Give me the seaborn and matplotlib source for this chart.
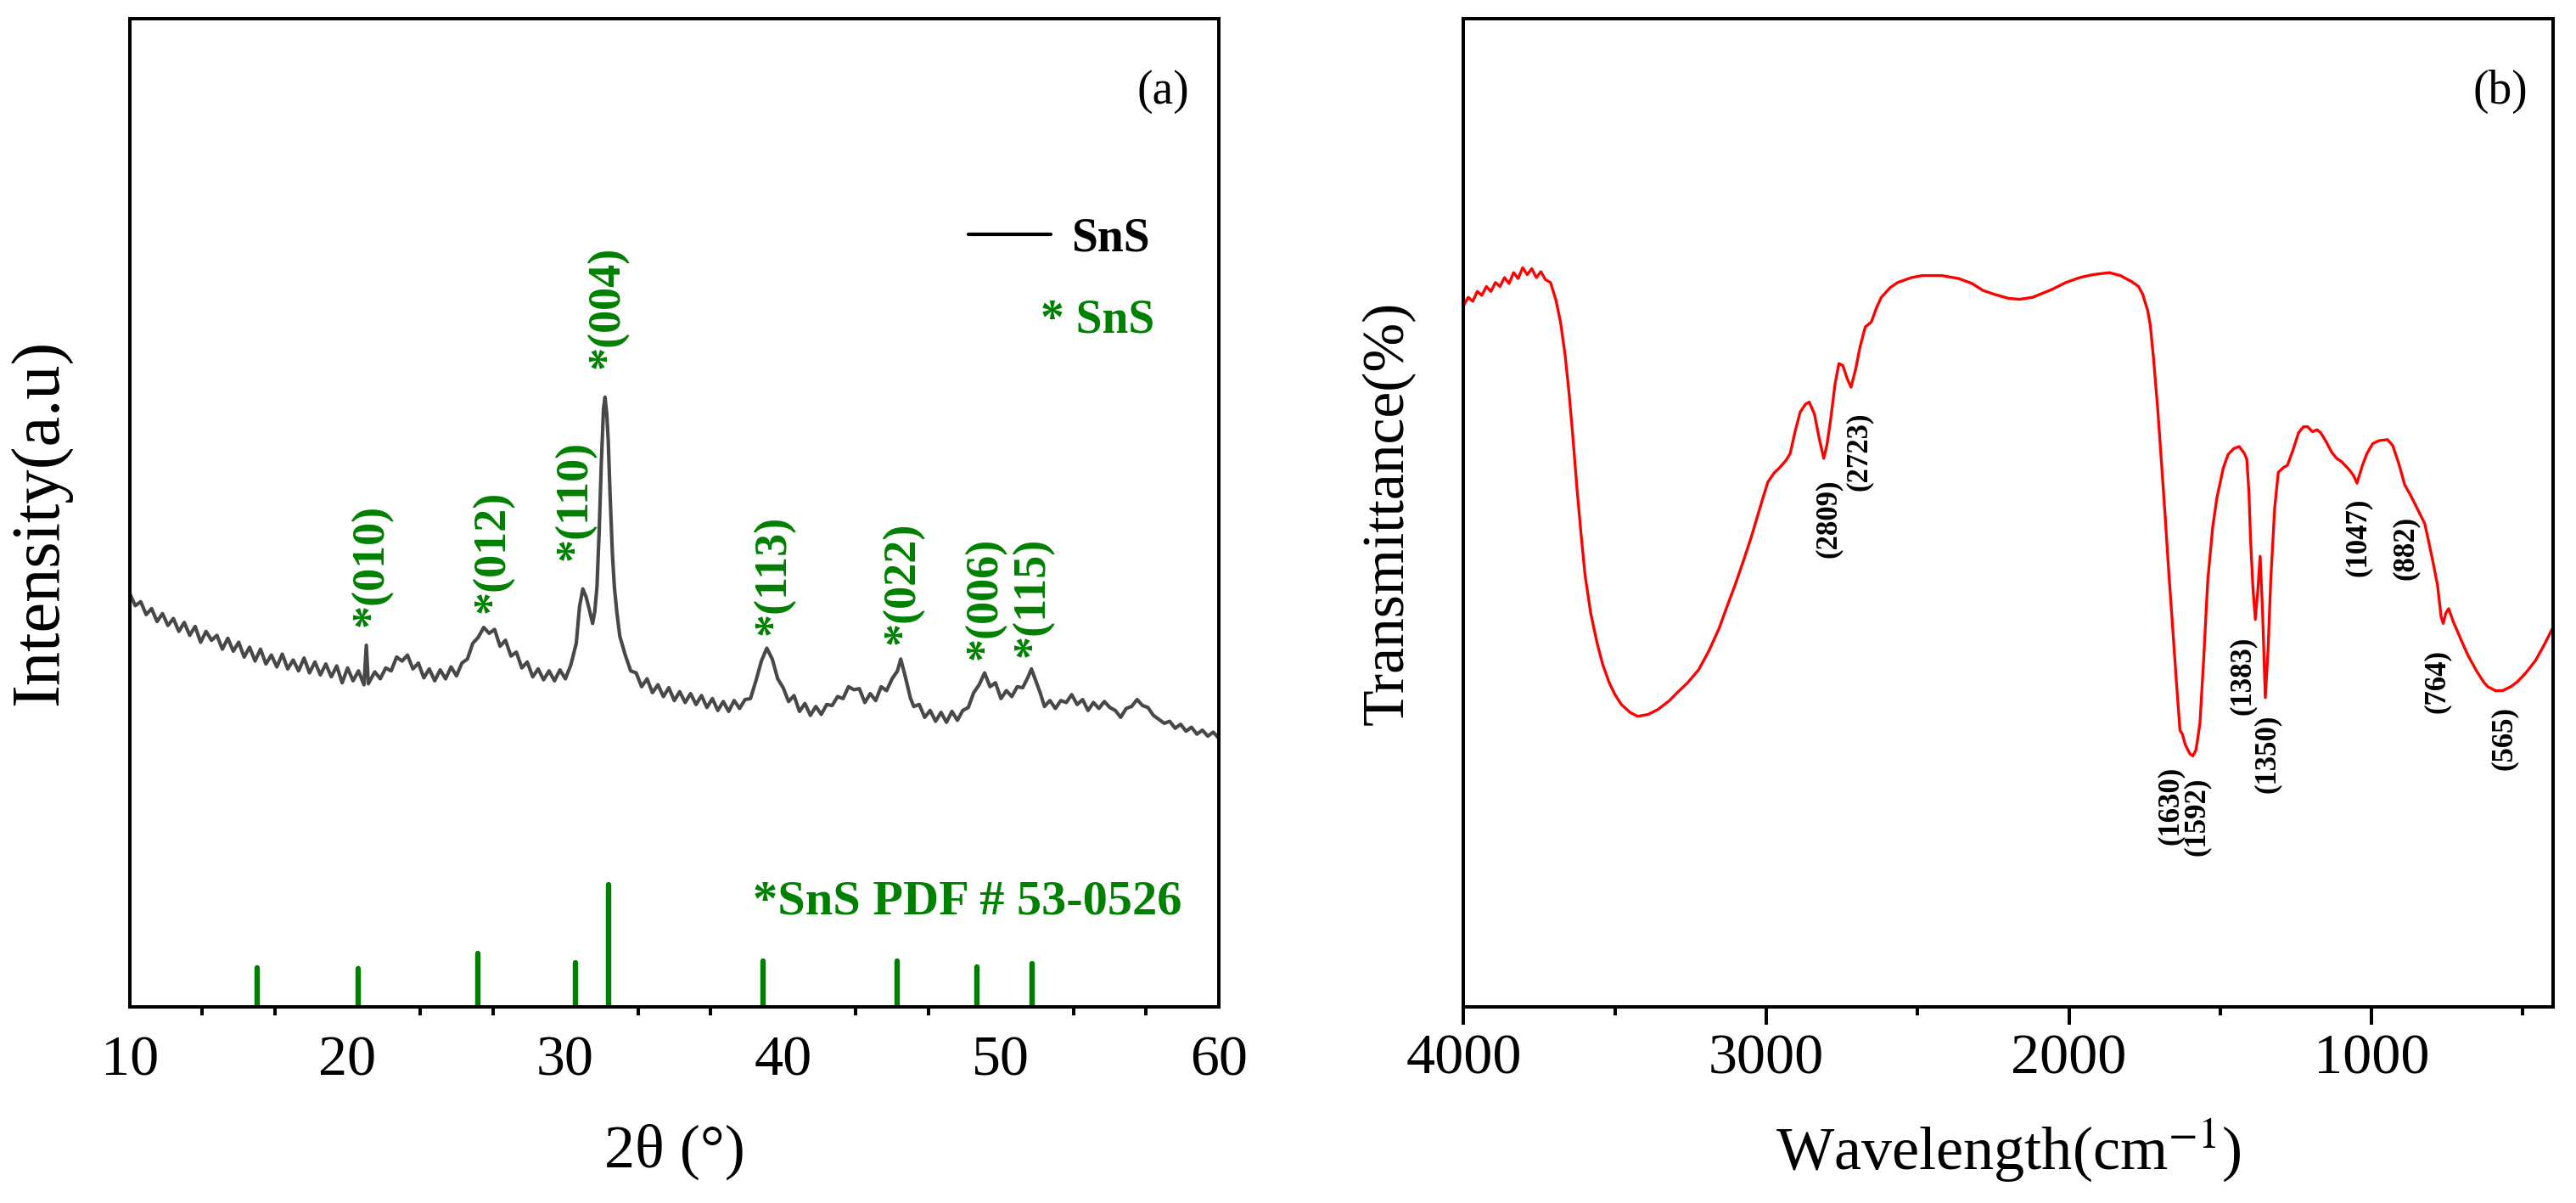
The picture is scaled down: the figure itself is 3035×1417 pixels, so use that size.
import numpy as np
import pandas as pd
import matplotlib
matplotlib.use("Agg")
import matplotlib.pyplot as plt
import seaborn as sns
from matplotlib.lines import Line2D
from matplotlib.ticker import FixedLocator, MultipleLocator

# ---------------- data ----------------
XRD_2THETA = [
    10.00, 10.25, 10.50, 10.75, 11.00, 11.25, 11.50, 11.75, 12.00, 12.25, 12.50, 12.75,
    13.00, 13.25, 13.50, 13.75, 14.00, 14.25, 14.50, 14.75, 15.00, 15.25, 15.50, 15.75,
    16.00, 16.25, 16.50, 16.75, 17.00, 17.25, 17.50, 17.75, 18.00, 18.25, 18.50, 18.75,
    19.00, 19.25, 19.50, 19.75, 20.00, 20.25, 20.50, 20.75, 20.86, 20.95, 21.25, 21.50,
    21.75, 22.00, 22.25, 22.50, 22.75, 23.00, 23.25, 23.50, 23.75, 24.00, 24.25, 24.50,
    24.75, 25.00, 25.25, 25.50, 25.75, 26.00, 26.25, 26.50, 26.75, 27.00, 27.25, 27.50,
    27.75, 28.00, 28.25, 28.50, 28.75, 29.00, 29.25, 29.50, 29.75, 30.00, 30.25, 30.50,
    30.65, 30.80, 30.95, 31.10, 31.25, 31.35, 31.45, 31.55, 31.65, 31.75, 31.82, 31.90,
    31.97, 32.05, 32.16, 32.25, 32.36, 32.50, 32.75, 33.00, 33.25, 33.50, 33.75, 34.00,
    34.25, 34.50, 34.75, 35.00, 35.25, 35.50, 35.75, 36.00, 36.25, 36.50, 36.75, 37.00,
    37.25, 37.50, 37.75, 38.00, 38.25, 38.50, 38.75, 39.00, 39.25, 39.50, 39.75, 40.00,
    40.25, 40.50, 40.75, 41.00, 41.25, 41.50, 41.75, 42.00, 42.25, 42.50, 42.75, 43.00,
    43.25, 43.50, 43.75, 44.00, 44.25, 44.50, 44.75, 45.00, 45.25, 45.40, 45.60, 45.85,
    46.00, 46.25, 46.50, 46.75, 47.00, 47.25, 47.50, 47.75, 48.00, 48.25, 48.50, 48.75,
    49.00, 49.25, 49.50, 49.75, 50.00, 50.25, 50.50, 50.75, 51.00, 51.25, 51.40, 51.60,
    51.80, 52.00, 52.25, 52.50, 52.75, 53.00, 53.25, 53.50, 53.75, 54.00, 54.25, 54.50,
    54.75, 55.00, 55.25, 55.50, 55.75, 56.00, 56.25, 56.50, 56.75, 57.00, 57.25, 57.50,
    57.75, 58.00, 58.25, 58.50, 58.75, 59.00, 59.25, 59.50, 59.75, 60.00,
]
XRD_INTENSITY = [
    41.8, 40.6, 41.0, 39.7, 40.3, 39.0, 39.8, 38.6, 39.3, 38.0, 38.9, 37.6,
    38.5, 36.9, 38.0, 37.1, 37.6, 36.2, 37.3, 36.0, 36.9, 35.4, 36.4, 35.0,
    36.2, 34.7, 35.6, 34.4, 35.7, 34.2, 35.1, 34.0, 35.3, 33.8, 34.9, 33.6,
    34.7, 33.4, 34.5, 32.8, 34.3, 33.0, 34.0, 32.6, 36.6, 32.7, 33.9, 33.2,
    34.3, 34.0, 35.4, 35.0, 35.6, 34.2, 34.8, 33.3, 34.2, 33.0, 34.1, 33.2,
    34.4, 33.5, 34.8, 35.2, 36.8, 37.4, 38.4, 37.8, 38.2, 36.5, 37.1, 35.5,
    35.9, 34.3, 34.9, 33.4, 34.2, 33.1, 34.0, 33.0, 34.1, 33.2, 34.6, 36.8,
    40.5, 42.3, 41.5, 40.2, 38.8, 40.0, 42.5, 48.0, 55.0, 60.5, 61.7, 60.0,
    57.2, 52.0, 45.8, 42.5, 40.0, 37.5, 35.6, 34.0, 33.8, 32.4, 33.2, 31.8,
    32.6, 31.4, 32.3, 31.0, 31.9, 30.8, 31.7, 30.6, 31.5, 30.3, 31.2, 30.0,
    30.9, 29.9, 31.0, 30.2, 31.1, 31.2, 33.0, 35.0, 36.3, 35.2, 33.2, 32.3,
    30.9, 31.5, 29.9, 30.7, 29.5, 30.4, 29.6, 30.6, 30.5, 31.4, 31.2, 32.4,
    32.1, 32.2, 30.8, 31.7, 31.0, 32.4, 32.0, 33.2, 34.0, 35.2, 33.5, 31.2,
    30.4, 30.6, 29.3, 30.0, 28.9, 29.8, 28.8, 29.9, 29.0, 30.0, 30.3, 31.8,
    32.6, 33.8, 32.4, 32.8, 31.2, 32.0, 31.4, 32.4, 32.3, 33.4, 34.2, 33.0,
    31.8, 30.4, 31.0, 30.2, 31.0, 30.8, 31.6, 30.6, 31.1, 30.0, 30.8, 30.2,
    30.9, 30.3, 30.0, 29.3, 30.2, 30.4, 31.1, 30.5, 30.3, 29.5, 29.1, 28.7,
    28.9, 28.2, 28.6, 27.9, 28.3, 27.6, 28.0, 27.4, 27.8, 27.2,
]

PDF_2THETA = [15.83, 20.47, 25.99, 30.48, 32.00, 39.06, 45.23, 48.90, 51.43]
PDF_INTENSITY = [3.95, 3.85, 5.4, 4.5, 12.4, 4.67, 4.6, 4.0, 4.4]

PEAK_LABELS = ["*(010)", "*(012)", "*(110)", "*(004)", "*(113)", "*(022)", "*(006)", "*(115)"]
PEAK_X = [21.1, 26.7, 30.47, 31.95, 39.57, 45.52, 49.27, 51.46]
PEAK_Y = [38.5, 39.9, 45.2, 64.6, 37.6, 36.7, 35.1, 35.4]

FTIR_WAVENUMBER = [
    4000, 3985, 3970, 3955, 3940, 3925, 3910, 3895, 3880, 3865, 3850, 3835, 3820, 3805,
    3790, 3775, 3760, 3745, 3730, 3713, 3695, 3680, 3665,
    3653, 3640, 3626, 3612, 3599, 3580, 3559, 3540, 3519, 3500, 3479, 3450, 3425, 3390,
    3358, 3320, 3291, 3260, 3224, 3190, 3156, 3130, 3103, 3075, 3049, 3020, 2995, 2975,
    2955, 2935, 2921, 2905, 2888, 2870, 2858, 2841, 2825, 2810, 2800, 2787, 2773, 2760,
    2747, 2733, 2720, 2705, 2690, 2673, 2653, 2635, 2620, 2590, 2566, 2520, 2485, 2420,
    2364, 2320, 2284, 2246, 2200, 2163, 2120, 2080, 2056, 2010, 1964, 1920, 1866, 1830,
    1793, 1770, 1756, 1740, 1731, 1720, 1707, 1695, 1682, 1670, 1658, 1645, 1633, 1625,
    1615, 1600, 1590, 1580, 1567, 1555, 1541, 1525, 1511, 1490, 1474, 1455, 1437, 1420,
    1412, 1405, 1400, 1392, 1384, 1376, 1368, 1360, 1351, 1342, 1333, 1320, 1308, 1290,
    1278, 1260, 1241, 1225, 1211, 1195, 1180, 1168, 1150, 1131, 1115, 1100, 1075, 1060,
    1048, 1030, 1015, 996, 975, 947, 930, 910, 890, 873, 850, 824, 800, 782, 770, 763,
    755, 745, 730, 702, 680, 653, 630, 616, 590, 567, 540, 518, 490, 457, 430, 402,
]
FTIR_TRANSMITTANCE = [
    71.0, 71.8, 71.4, 72.4, 72.0, 72.9, 72.4, 73.3, 72.9, 73.8, 73.2, 74.3, 73.7, 74.8,
    74.1, 74.7, 73.8, 74.4, 73.6, 73.3, 71.5, 69.3, 66.0,
    62.5, 58.0, 52.6, 47.8, 43.7, 39.8, 36.8, 34.6, 32.8, 31.6, 30.6, 29.8, 29.4, 29.6,
    30.1, 31.0, 31.9, 32.8, 34.1, 36.0, 38.3, 40.5, 42.7, 45.2, 47.6, 50.6, 53.1, 54.0,
    54.6, 55.3, 56.0, 58.2, 60.2, 61.0, 61.2, 60.0, 57.5, 55.5, 56.8, 59.5, 63.0, 65.1,
    64.9, 63.6, 62.7, 64.5, 66.8, 68.8, 69.3, 70.8, 71.8, 72.8, 73.3, 73.8, 74.0, 74.0,
    73.7, 73.2, 72.5, 72.1, 71.7, 71.6, 71.8, 72.3, 72.6, 73.3, 73.8, 74.1, 74.3, 74.0,
    73.4, 72.9, 72.1, 70.5, 69.0, 65.5, 60.7, 55.5, 49.7, 44.0, 38.8, 33.0, 28.0, 27.6,
    26.5, 25.6, 25.4, 26.0, 28.7, 35.0, 43.2, 48.5, 51.5, 54.5, 55.9, 56.5, 56.7, 56.0,
    55.4, 52.0, 47.5, 42.5, 39.2, 42.0, 45.6, 40.0, 31.3, 36.0, 43.2, 50.5, 54.1, 54.6,
    54.8, 56.3, 58.1, 58.7, 58.7, 58.2, 58.4, 58.1, 57.2, 56.1, 55.5, 55.2, 54.4, 53.8,
    53.0, 54.8, 56.0, 57.0, 57.3, 57.4, 56.8, 55.0, 52.8, 51.9, 50.5, 48.9, 45.5, 42.7, 39.5, 38.8,
    39.8, 40.3, 39.0, 37.0, 35.5, 34.0, 32.9, 32.4, 32.0, 32.0, 32.4, 32.9, 33.8, 35.1, 36.6, 38.3,
]

FTIR_LABELS = ["(2809)", "(2723)", "(1630)", "(1592)", "(1383)", "(1350)",
               "(1047)", "(882)", "(764)", "(565)"]
FTIR_LABEL_X = [2794, 2693, 1664, 1578, 1425, 1345, 1045, 886, 782, 561]
FTIR_LABEL_Y = [53.4, 60.2, 24.3, 23.2, 37.5, 29.6, 51.5, 49.7, 36.2, 30.4]

XRD_TICKS = [10, 20, 30, 40, 50, 60]
FTIR_TICKS = [4000, 3000, 2000, 1000]

# ---------------- style ----------------
sns.set_theme(style="white")
plt.rcParams["font.family"] = ["Liberation Serif", "DejaVu Serif"]
plt.rcParams["mathtext.fontset"] = "stix"
plt.rcParams["text.color"] = "black"
plt.rcParams["axes.labelcolor"] = "black"
plt.rcParams["xtick.color"] = "black"
plt.rcParams["ytick.color"] = "black"

GREEN = "#008000"
GRAY = "#484848"
RED = "#ff0000"
SPINE_W = 2.9

fig = plt.figure(figsize=(30.35, 14.17), dpi=100)
ax1 = fig.add_axes([0.0504, 0.1630, 0.4227, 0.8215])
ax2 = fig.add_axes([0.5682, 0.1630, 0.4229, 0.8215])

# ---------------- panel (a): XRD ----------------
xrd = pd.DataFrame({"two_theta": XRD_2THETA, "intensity": XRD_INTENSITY})
sns.lineplot(data=xrd, x="two_theta", y="intensity", ax=ax1, color=GRAY,
             linewidth=3.0, estimator=None)
ax1.vlines(PDF_2THETA, 0, PDF_INTENSITY, colors=GREEN, linewidth=4.6, capstyle="round")

for lab, px, py in zip(PEAK_LABELS, PEAK_X, PEAK_Y):
    ax1.text(px, py, lab, rotation=90, ha="center", va="bottom", color=GREEN,
             fontsize=39, fontweight="bold")

ax1.set_xlim(10, 60)
ax1.set_ylim(0, 100)
ax1.set_xticks(XRD_TICKS)
ax1.xaxis.set_minor_locator(FixedLocator(
    [t + d for t in XRD_TICKS[:-1] for d in (10 / 3, 20 / 3)]))
ax1.set_yticks([])
ax1.tick_params(axis="x", which="major", length=0, pad=24, labelsize=49, colors="black")
ax1.tick_params(axis="x", which="minor", bottom=True, direction="out", length=7,
                width=2.9, color="black")
ax1.set_xlabel("2θ (°)", fontsize=52)
ax1.set_ylabel("Intensity(a.u)", fontsize=58)
ax1.xaxis.set_label_coords(0.5, -0.118)
ax1.yaxis.set_label_coords(-0.053, 0.49)

ax1.text(0.9486, 0.926, "(a)", transform=ax1.transAxes, ha="center", va="center",
         fontsize=40)
ax1.legend(handles=[Line2D([], [], color="black", linewidth=3)], labels=["SnS"],
           loc="center left", bbox_to_anchor=(0.770, 0.777), frameon=False,
           prop={"size": 40, "weight": "bold"}, handlelength=1.75,
           handletextpad=0.43, borderpad=0, borderaxespad=0)
ax1.text(0.8365, 0.695, "* SnS", transform=ax1.transAxes, ha="left", va="center",
         color=GREEN, fontsize=40, fontweight="bold")
ax1.text(0.9665, 0.1065, "*SnS PDF # 53-0526", transform=ax1.transAxes, ha="right",
         va="center", color=GREEN, fontsize=42, fontweight="bold")

# ---------------- panel (b): FTIR ----------------
ftir = pd.DataFrame({"wavenumber": FTIR_WAVENUMBER, "transmittance": FTIR_TRANSMITTANCE})
sns.lineplot(data=ftir, x="wavenumber", y="transmittance", ax=ax2, color=RED,
             linewidth=2.4, estimator=None, sort=False)
for lab, px, py in zip(FTIR_LABELS, FTIR_LABEL_X, FTIR_LABEL_Y):
    ax2.text(px, py, lab, rotation=90, ha="center", va="top", color="black",
             fontsize=25, fontweight="bold")

ax2.set_xlim(4000, 400)
ax2.set_ylim(0, 100)
ax2.set_xticks(FTIR_TICKS)
ax2.xaxis.set_minor_locator(MultipleLocator(500))
ax2.set_yticks([])
ax2.tick_params(axis="x", which="major", bottom=True, direction="out", length=15,
                width=2.9, pad=8, labelsize=49, colors="black")
ax2.tick_params(axis="x", which="minor", bottom=True, direction="out", length=7.5,
                width=2.9, color="black")
ax2.set_xlabel("Wavelength(cm$^{-1}$)", fontsize=52)
ax2.set_ylabel("Transmittance(%)", fontsize=50)
ax2.xaxis.set_label_coords(0.5, -0.111)
ax2.yaxis.set_label_coords(-0.044, 0.5)
ax2.text(0.9517, 0.926, "(b)", transform=ax2.transAxes, ha="center", va="center",
         fontsize=40)

for ax in (ax1, ax2):
    for sp in ax.spines.values():
        sp.set_visible(True)
        sp.set_color("black")
        sp.set_linewidth(SPINE_W)
    ax.grid(False)
    ax.set_facecolor("white")

fig.savefig("out.png", dpi=100, facecolor="white")
